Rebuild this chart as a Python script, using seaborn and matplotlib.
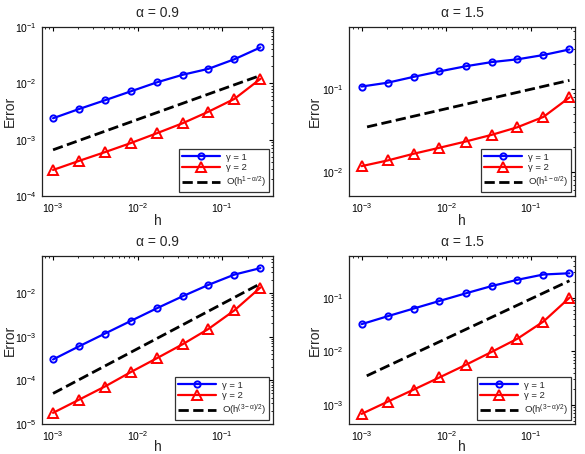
import numpy as np
import pandas as pd
import matplotlib
matplotlib.use("Agg")
import matplotlib.pyplot as plt
import seaborn as sns

h = [0.001, 0.00203, 0.0041, 0.0083, 0.0169, 0.0342, 0.069, 0.140, 0.284]

# top-left: alpha = 0.9, O(h^{1-alpha/2})
tl_g1 = [2.4e-3, 3.5e-3, 5.0e-3, 7.2e-3, 1.04e-2, 1.42e-2, 1.81e-2, 2.68e-2, 4.34e-2]
tl_g2 = [2.9e-4, 4.2e-4, 6.0e-4, 8.7e-4, 1.3e-3, 1.96e-3, 3.14e-3, 5.3e-3, 1.2e-2]
tl_ref_x = [0.001, 0.284]
tl_ref_y = [6.6e-4, 1.38e-2]

# top-right: alpha = 1.5, O(h^{1-alpha/2})
tr_g1 = [0.107, 0.119, 0.140, 0.163, 0.188, 0.211, 0.228, 0.257, 0.300]
tr_g2 = [1.17e-2, 1.37e-2, 1.65e-2, 1.95e-2, 2.32e-2, 2.79e-2, 3.45e-2, 4.6e-2, 7.9e-2]
tr_ref_x = [0.00116, 0.284]
tr_ref_y = [3.48e-2, 0.127]

# bottom-left: alpha = 0.9, O(h^{(3-alpha)/2})
bl_g1 = [3.0e-4, 6.0e-4, 1.17e-3, 2.28e-3, 4.45e-3, 8.4e-3, 1.53e-2, 2.63e-2, 3.7e-2]
bl_g2 = [1.8e-5, 3.6e-5, 7.2e-5, 1.54e-4, 3.2e-4, 6.7e-4, 1.5e-3, 4.0e-3, 1.33e-2]
bl_ref_x = [0.001, 0.284]
bl_ref_y = [5.0e-5, 1.63e-2]

# bottom-right: alpha = 1.5, O(h^{(3-alpha)/2})
br_g1 = [3.24e-2, 4.56e-2, 6.34e-2, 8.8e-2, 0.122, 0.167, 0.219, 0.275, 0.290]
br_g2 = [6.8e-4, 1.15e-3, 1.93e-3, 3.27e-3, 5.6e-3, 9.8e-3, 1.73e-2, 3.63e-2, 0.101]
br_ref_x = [0.00115, 0.284]
br_ref_y = [3.5e-3, 0.21]

titles = ["α = 0.9", "α = 1.5", "α = 0.9", "α = 1.5"]
ref_labels = [r"O(h$^{1-\alpha/2}$)", r"O(h$^{1-\alpha/2}$)",
              r"O(h$^{(3-\alpha)/2}$)", r"O(h$^{(3-\alpha)/2}$)"]

sns.set_style("white")
plt.rcParams['font.family'] = ['Liberation Sans', 'DejaVu Sans']
plt.rcParams['mathtext.fontset'] = 'custom'
plt.rcParams['mathtext.rm'] = 'Liberation Sans'
plt.rcParams['mathtext.it'] = 'Liberation Sans'

W, H = 585, 454
fig = plt.figure(figsize=(W / 100, H / 100), dpi=100)

# axes boxes in pixels: (left, top, right, bottom)
boxes = [(42, 27, 273, 196), (349, 27, 575, 196),
         (42, 256, 273, 424), (349, 256, 575, 424)]
xlims = [(7.4e-4, 0.40), (7.1e-4, 0.33), (7.4e-4, 0.40), (7.1e-4, 0.33)]
ylims = [(1e-4, 1e-1), (5.1e-3, 0.56), (1e-5, 0.07), (4.4e-4, 0.61)]
# right edge of "Error" and top of "h", in figure pixels
ylabel_x = [17, 322, 17, 322]
xlabel_y = [214, 214, 440, 440]

panels = [
    (tl_g1, tl_g2, tl_ref_x, tl_ref_y),
    (tr_g1, tr_g2, tr_ref_x, tr_ref_y),
    (bl_g1, bl_g2, bl_ref_x, bl_ref_y),
    (br_g1, br_g2, br_ref_x, br_ref_y),
]

for i, (g1, g2, rx, ry) in enumerate(panels):
    l, t, r, b = boxes[i]
    ax = fig.add_axes([l / W, 1 - b / H, (r - l) / W, (b - t) / H])
    ax.set_xscale('log')
    ax.set_yscale('log')

    sns.lineplot(x=h, y=g1, ax=ax, color='#0000ff', lw=1.6, marker='o',
                 markersize=4.5, markerfacecolor='none', markeredgecolor='#0000ff',
                 markeredgewidth=1.4, label="γ = 1")
    sns.lineplot(x=h, y=g2, ax=ax, color='#ff0000', lw=1.6, marker='^',
                 markersize=6.5, markerfacecolor='none', markeredgecolor='#ff0000',
                 markeredgewidth=1.4, label="γ = 2")
    sns.lineplot(x=rx, y=ry, ax=ax, color='black', lw=2, linestyle='--',
                 dashes=(3, 2.2), label=ref_labels[i])

    ax.set_xlim(*xlims[i])
    ax.set_ylim(*ylims[i])
    ax.set_title(titles[i], fontsize=10, pad=7)
    ax.set_xlabel("h", fontsize=10)
    ax.set_ylabel("Error", fontsize=10)
    ax.yaxis.set_label_coords((ylabel_x[i] - l) / (r - l), 0.5)
    ax.xaxis.set_label_coords(0.5, (b - xlabel_y[i]) / (b - t))
    ax.tick_params(which='both', direction='in', top=True, right=True,
                   labelsize=7.5, pad=4, colors='black')
    ax.tick_params(which='major', length=3)
    ax.tick_params(which='minor', length=1.5)
    for s in ax.spines.values():
        s.set_color('#222222')
        s.set_linewidth(0.9)

    leg = ax.legend(loc='lower right', fontsize=6.8, frameon=True,
                    fancybox=False, edgecolor='black', handlelength=4.0,
                    borderpad=0.35, labelspacing=0.2, handletextpad=0.6,
                    borderaxespad=0.4)
    leg.get_frame().set_linewidth(0.9)

fig.savefig("out.png", dpi=100)
